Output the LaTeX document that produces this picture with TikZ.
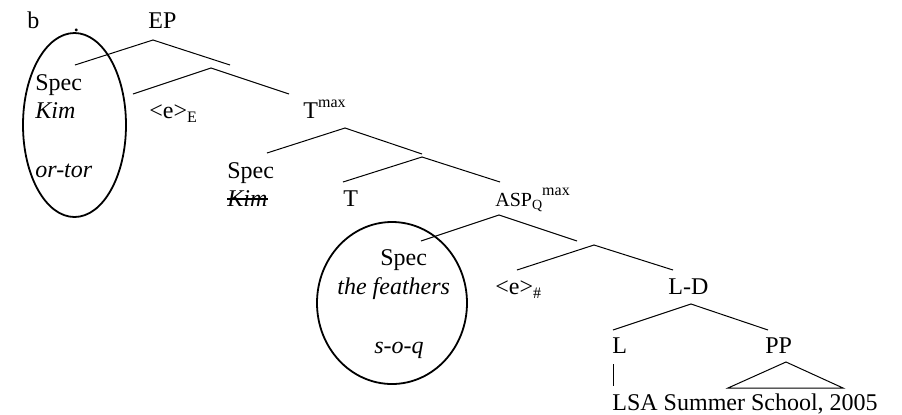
\documentclass[tikz,border=0pt]{standalone}
\usepackage{fontspec}
\setmainfont{Liberation Serif}

\tikzset{
  lbl/.style={inner sep=0pt, anchor=base west, font=\fontsize{12}{14}\selectfont},
  branch/.style={line width=0.5pt},
  ring/.style={line width=0.9pt}
}
\newcommand{\supmax}{\raisebox{5.5pt}{\fontsize{8}{8}\selectfont max}}
\newcommand{\lowidx}[1]{\raisebox{-2pt}{\fontsize{8}{8}\selectfont #1}}

\begin{document}
\begin{tikzpicture}[x=0.5pt,y=-0.5pt]
\useasboundingbox (0,0) rectangle (902,414);

% labels
\node[lbl] (b) at (27,28) {b};
\node[lbl] (dot) at (73,31) {.};
\node[lbl] (ep) at (148,28) {EP};
\node[lbl] (spec1) at (35,90) {Spec};
\node[lbl] (kim1) at (35,118) {\itshape Kim};
\node[lbl] (ortor) at (35,177) {\itshape or-tor};
\node[lbl] (eE) at (149,118) {<e>\lowidx{E}};
\node[lbl] (tmax) at (303,118) {T\supmax};
\node[lbl] (spec2) at (227,178) {Spec};
\node[lbl] (kim2) at (227,206) {\itshape Kim};
\node[lbl] (t) at (343,206) {T};
\node[lbl] (aspq) at (495,206) {\fontsize{10}{12}\selectfont ASP\raisebox{-1.5pt}{\fontsize{7}{7}\selectfont Q}\supmax};
\node[lbl] (spec3) at (380,265) {Spec};
\node[lbl] (feathers) at (337,294) {\itshape the feathers};
\node[lbl] (soq) at (374,353) {\itshape s-o-q};
\node[lbl] (eH) at (495,294) {<e>\lowidx{\#}};
\node[lbl] (ld) at (668,294) {L-D};
\node[lbl] (l) at (612,353) {L};
\node[lbl] (pp) at (765,353) {PP};
\node[lbl] (lsa) at (612,410) {LSA Summer School, 2005};

% branch points
\coordinate (ep-top) at (153,40);
\coordinate (ep-l) at (75,65);
\coordinate (ep-r) at (230,65);
\coordinate (e-top) at (211,68);
\coordinate (e-l) at (133,94);
\coordinate (e-r) at (289,94);
\coordinate (t-top) at (345,128);
\coordinate (t-l) at (267,153);
\coordinate (t-r) at (422,154);
\coordinate (tb-top) at (422,157);
\coordinate (tb-l) at (343,182);
\coordinate (tb-r) at (500,182);
\coordinate (asp-top) at (499,215);
\coordinate (asp-l) at (421,241);
\coordinate (asp-r) at (577,241);
\coordinate (ab-top) at (594,245);
\coordinate (ab-l) at (517,270);
\coordinate (ab-r) at (673,270);
\coordinate (ld-top) at (691,304);
\coordinate (ld-l) at (613,330);
\coordinate (ld-r) at (768,330);
\coordinate (l-top) at (613,364);
\coordinate (l-bot) at (613,386);
\coordinate (pp-top) at (786,362);
\coordinate (pp-l) at (728,388);
\coordinate (pp-r) at (843,388);

\draw[branch] (ep-l) -- (ep-top) -- (ep-r);
\draw[branch] (e-l) -- (e-top) -- (e-r);
\draw[branch] (t-l) -- (t-top) -- (t-r);
\draw[branch] (tb-l) -- (tb-top) -- (tb-r);
\draw[branch] (asp-l) -- (asp-top) -- (asp-r);
\draw[branch] (ab-l) -- (ab-top) -- (ab-r);
\draw[branch] (ld-l) -- (ld-top) -- (ld-r);
\draw[branch] (l-top) -- (l-bot);
\draw[branch] (pp-l) -- (pp-top) -- (pp-r) -- cycle;

% struck out copy
\draw[line width=1pt] ([yshift=3.5pt]kim2.base west) -- ([yshift=3.5pt]kim2.base east);

% circled specifiers
\draw[ring] (74.5,125) ellipse [x radius=51.5, y radius=92];
\draw[ring] (392,303) ellipse [x radius=75, y radius=81];
\end{tikzpicture}
\end{document}
